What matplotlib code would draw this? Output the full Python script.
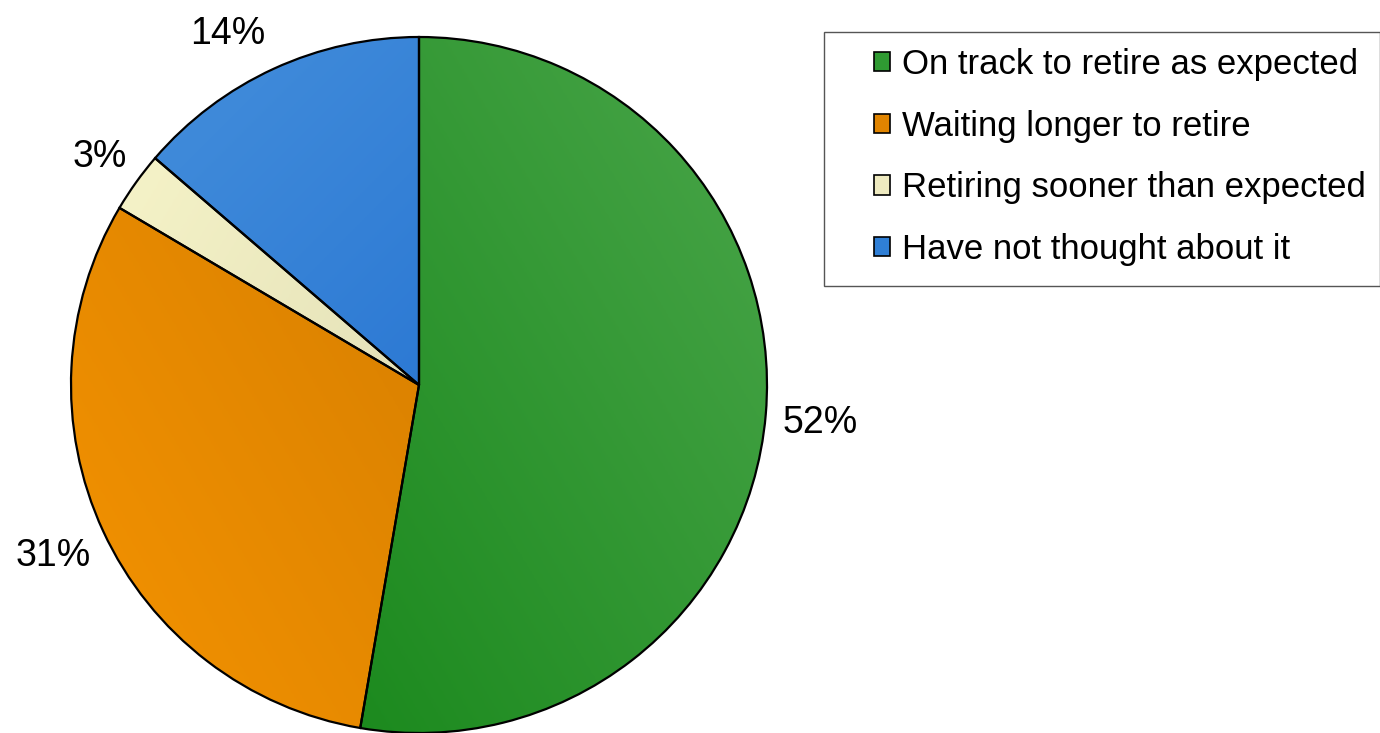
import numpy as np
import matplotlib
matplotlib.use("Agg")
import matplotlib.pyplot as plt
from matplotlib.colors import LinearSegmentedColormap
from matplotlib.patches import Patch, Rectangle

plt.rcParams['font.family'] = ['Liberation Sans', 'DejaVu Sans']

labels = ['On track to retire as expected', 'Waiting longer to retire',
          'Retiring sooner than expected', 'Have not thought about it']
values = [52.7, 30.8, 2.8, 13.7]
pct_labels = ['52%', '31%', '3%', '14%']
# label centres in pie units (radius = 1)
label_xy = [(1.152, -0.109), (-1.052, -0.491), (-0.917, 0.655), (-0.549, 1.009)]

# (light, dark) per slice and gradient direction (dark end points toward)
grad_colors = [('#4aa64a', '#0c800f'), ('#f59300', '#c47300'),
               ('#faf8cc', '#cfcba5'), ('#4791dc', '#1262cc')]
grad_dirs = [(-1.0, -0.6), (1.0, 0.6), (1.0, -0.6), (1.0, -1.0)]
legend_colors = ['#2f9a32', '#e08400', '#eeeac0', '#2f7fd6']

fig = plt.figure(figsize=(13.8, 7.33), dpi=100)
ax = fig.add_axes([71 / 1380, 0.0, 696 / 1380, 696 / 733])

wedges, _ = ax.pie(values, startangle=90, counterclock=False,
                   colors=['none'] * 4,
                   wedgeprops=dict(edgecolor='black', linewidth=1.6))

xx, yy = np.meshgrid(np.linspace(-1, 1, 400), np.linspace(-1, 1, 400))
for w, (c1, c2), (dx, dy) in zip(wedges, grad_colors, grad_dirs):
    cmap = LinearSegmentedColormap.from_list('g', [c1, c2])
    g = xx * dx + yy * dy
    g = (g - g.min()) / (g.max() - g.min())
    im = ax.imshow(g, cmap=cmap, extent=(-1, 1, -1, 1), origin='lower',
                   zorder=0, interpolation='bilinear')
    im.set_clip_path(w)
    w.set_zorder(1)
    w.set_clip_on(False)

for txt, (x, y) in zip(pct_labels, label_xy):
    ax.text(x, y, txt, fontsize=27, ha='center', va='center', clip_on=False)

ax.set_xlim(-1.0, 1.0)
ax.set_ylim(-1.0, 1.0)
ax.set_aspect('equal')
ax.axis('off')

# legend box
fig.patches.append(Rectangle((824 / 1380, 1 - 286 / 733), 556 / 1380, 254 / 733,
                             transform=fig.transFigure, facecolor='white',
                             edgecolor='#555555', linewidth=1.0, zorder=0))
handles = [Patch(facecolor=c, edgecolor='black', linewidth=1.2) for c in legend_colors]
leg = fig.legend(handles, labels, loc='center left',
                 bbox_to_anchor=(874 / 1380, 1 - 157 / 733),
                 fontsize=25, frameon=False,
                 handlelength=0.47, handleheight=0.47, handletextpad=0.35,
                 labelspacing=0.83, borderpad=0, borderaxespad=0)

fig.savefig('out.png', dpi=100)
